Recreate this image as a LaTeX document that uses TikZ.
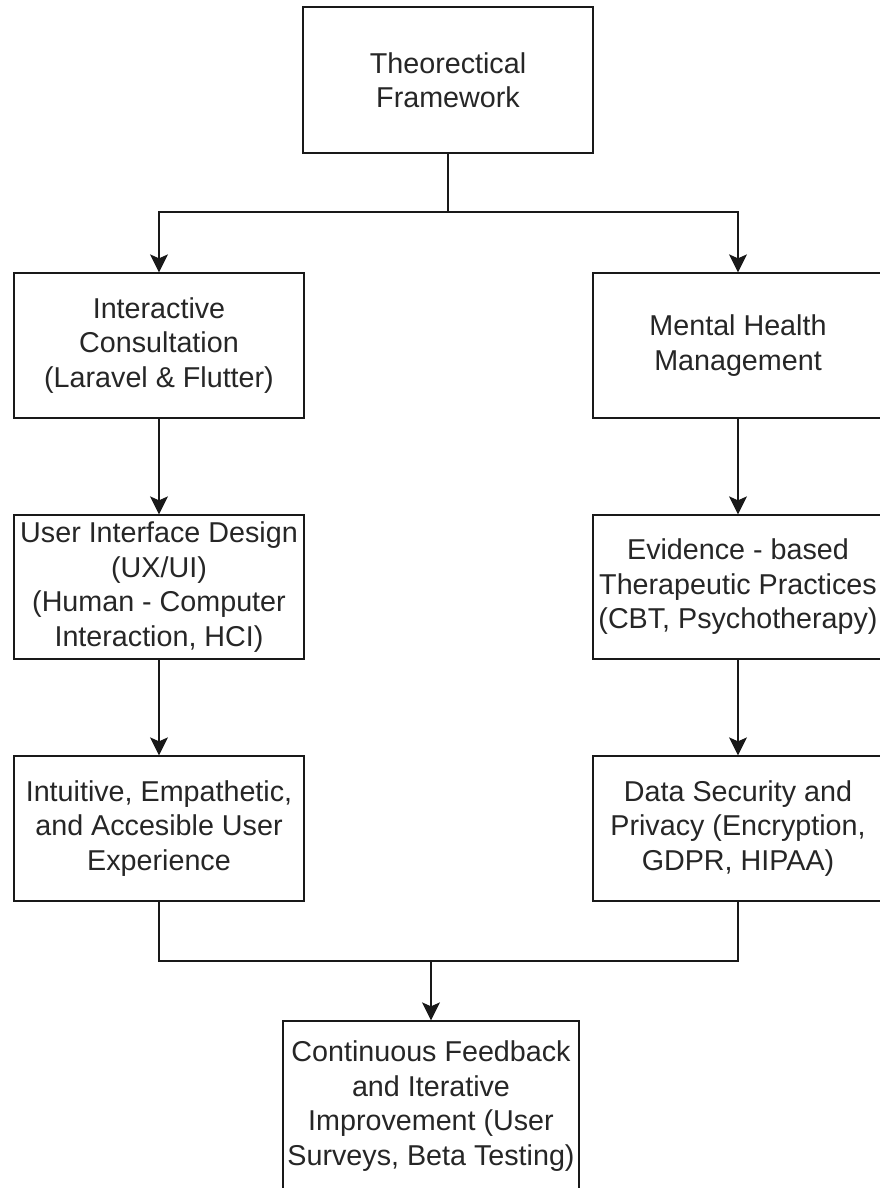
\documentclass[tikz,border=0pt]{standalone}
\usepackage{fontspec}
\setmainfont{Liberation Sans}
\usetikzlibrary{arrows.meta}
\begin{document}
\begin{tikzpicture}[x=1pt,y=-1pt,
  box/.style={draw=black!90, line width=1.3pt, minimum width=290pt, minimum height=145pt,
    inner sep=0pt, align=center, font=\fontsize{28.7}{34.5}\selectfont, text=black!85},
  arr/.style={draw=black!90, line width=1.3pt, -{Stealth[length=18pt,width=18pt,inset=4pt]}},
  ln/.style={draw=black!90, line width=1.3pt}]
\useasboundingbox (0,0) rectangle (880,1188);
\fill[white] (0,0) rectangle (880,1188);

\node[box, minimum height=146pt] (tf) at (448,80) {Theorectical\\Framework};
\node[box] (ic) at (159,345.5) {Interactive\\Consultation\\(Laravel \& Flutter)};
\node[box] (mh) at (738,345.5) {Mental Health\\Management};
\node[box, minimum height=144pt] (ui) at (159,587) {User Interface Design\\(UX/UI)\\(Human - Computer\\Interaction, HCI)};
\node[box, minimum height=144pt] (eb) at (738,587) {Evidence - based\\Therapeutic Practices\\(CBT, Psychotherapy)};
\node[box] (ix) at (159,828.5) {Intuitive, Empathetic,\\and Accesible User\\Experience};
\node[box] (ds) at (738,828.5) {Data Security and\\Privacy (Encryption,\\GDPR, HIPAA)};
\node[box, minimum width=296pt, minimum height=170pt] (cf) at (431,1106) {Continuous Feedback\\and Iterative\\Improvement (User\\Surveys, Beta Testing)};

\coordinate (j1) at (448,212);
\draw[ln] (tf.south) -- (j1);
\draw[arr] (j1) -| (ic.north);
\draw[arr] (j1) -| (mh.north);

\draw[arr] (ic.south) -- (ui.north);
\draw[arr] (mh.south) -- (eb.north);
\draw[arr] (ui.south) -- (ix.north);
\draw[arr] (eb.south) -- (ds.north);

\coordinate (j2) at (431,961);
\draw[ln] (ix.south) |- (j2);
\draw[ln] (ds.south) |- (j2);
\draw[arr] (j2) -- (cf.north);
\end{tikzpicture}
\end{document}
